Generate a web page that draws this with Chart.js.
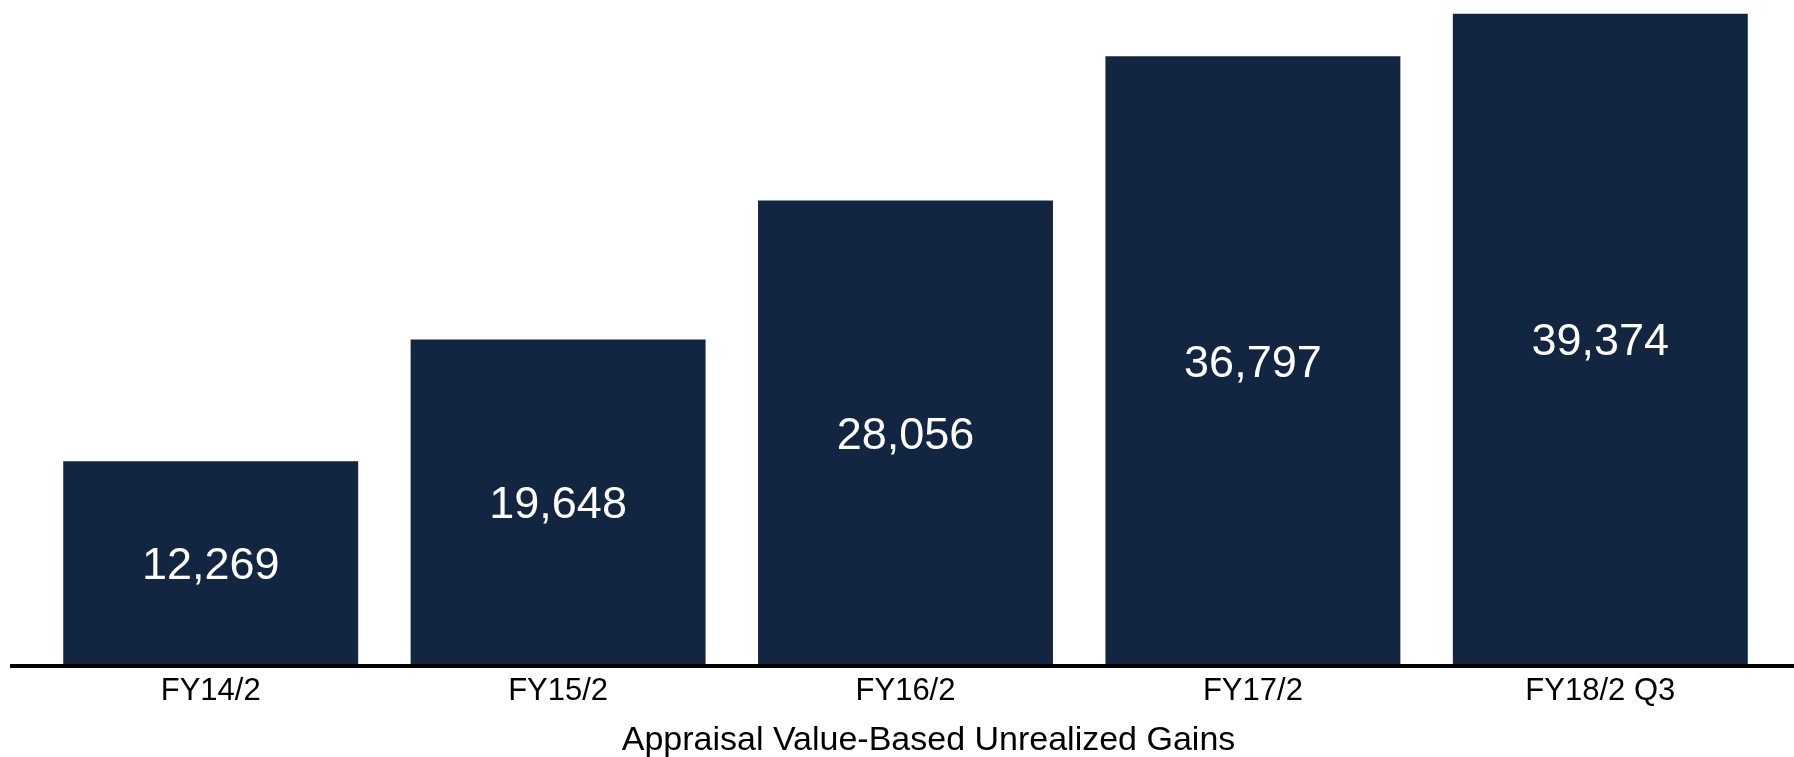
<!DOCTYPE html>
<html>
<head>
<meta charset="utf-8">
<script src="https://cdn.jsdelivr.net/npm/chart.js@4/dist/chart.umd.min.js"></script>
<style>
  html, body { margin: 0; padding: 0; background: #ffffff; }
  #wrap { width: 1794px; height: 757px; position: relative; }
</style>
</head>
<body>
<div id="wrap"><canvas id="c"></canvas></div>
<script>
const categories = ["FY14/2", "FY15/2", "FY16/2", "FY17/2", "FY18/2 Q3"];
const gains = [12269, 19648, 28056, 36797, 39374];
const axisTitle = "Appraisal Value-Based Unrealized Gains";

const FONT = "'Liberation Sans', Arial, Helvetica, sans-serif";
const BAR_COLOR = "#132641";

const baseLine = {
  id: "baseLine",
  afterDatasetsDraw(chart) {
    const ctx = chart.ctx;
    const y = chart.scales.y.getPixelForValue(0);
    ctx.save();
    ctx.fillStyle = "#000000";
    ctx.fillRect(10, y, chart.width - 10, 4);
    ctx.restore();
  }
};

const valueLabels = {
  id: "valueLabels",
  afterDatasetsDraw(chart) {
    const ctx = chart.ctx;
    const meta = chart.getDatasetMeta(0);
    ctx.save();
    ctx.fillStyle = "#ffffff";
    ctx.font = "45px " + FONT;
    ctx.textAlign = "center";
    ctx.textBaseline = "middle";
    meta.data.forEach((bar, i) => {
      const v = chart.data.datasets[0].data[i];
      const cy = (bar.y + bar.base) / 2;
      ctx.fillText(v.toLocaleString("en-US"), bar.x, cy + 4);
    });
    ctx.restore();
  }
};

const bottomTitle = {
  id: "bottomTitle",
  afterDraw(chart) {
    const ctx = chart.ctx;
    const area = chart.chartArea;
    ctx.save();
    ctx.fillStyle = "#000000";
    ctx.font = "34px " + FONT;
    ctx.textAlign = "center";
    ctx.textBaseline = "middle";
    ctx.fillText(axisTitle, (area.left + area.right) / 2 + 23, chart.height - 16);
    ctx.restore();
  }
};

new Chart(document.getElementById("c"), {
  type: "bar",
  data: {
    labels: categories,
    datasets: [{
      data: gains,
      backgroundColor: BAR_COLOR,
      borderWidth: 0,
      categoryPercentage: 1.0,
      barPercentage: 0.849
    }]
  },
  options: {
    responsive: true,
    maintainAspectRatio: false,
    animation: false,
    devicePixelRatio: 1,
    layout: { padding: { left: 37, right: 20, top: 0, bottom: 0 } },
    plugins: {
      legend: { display: false },
      tooltip: { enabled: false },
      title: { display: false }
    },
    scales: {
      x: {
        grid: { display: false, drawTicks: false },
        border: { display: false },
        ticks: {
          color: "#000000",
          font: { family: FONT, size: 31 },
          padding: 9,
          maxRotation: 0,
          autoSkip: false
        },
        title: { display: false },
        afterFit(scale) { scale.height = 93; }
      },
      y: {
        display: false,
        min: 0,
        max: 40200,
        grid: { display: false }
      }
    }
  },
  plugins: [baseLine, valueLabels, bottomTitle]
});
</script>
</body>
</html>
